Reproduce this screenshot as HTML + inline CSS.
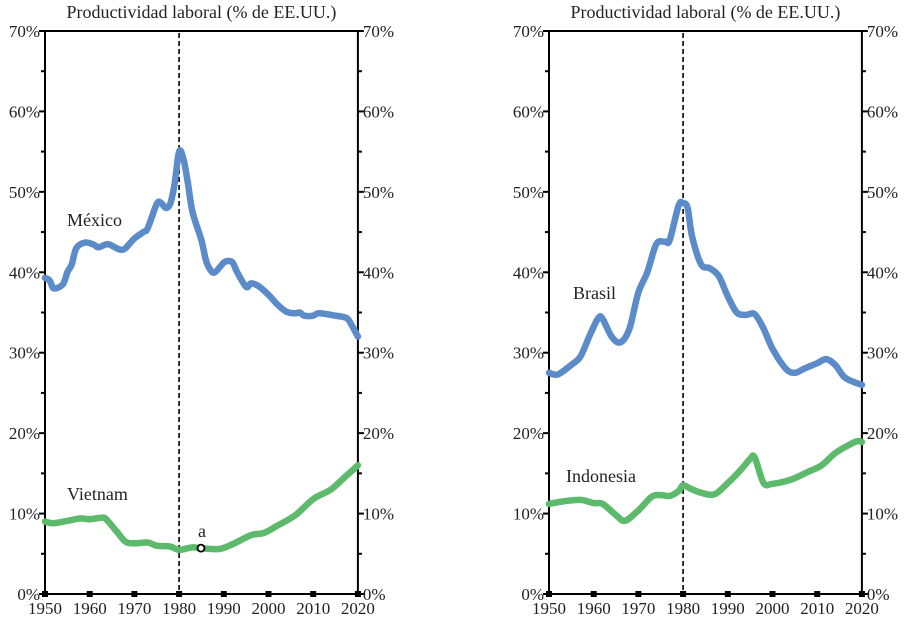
<!DOCTYPE html>
<html><head><meta charset="utf-8"><style>
html,body{margin:0;padding:0;background:#fff;}
svg text{font-family:"Liberation Serif",serif;fill:#222;}
</style></head><body>
<svg id="s" width="913" height="619" xmlns="http://www.w3.org/2000/svg"></svg>
<script>
const S=document.getElementById('s');let h='';
const Y=p=>594-p*8.043;
function smooth(P){let d=`M${P[0][0].toFixed(1)},${P[0][1].toFixed(1)}`;
 for(let i=0;i<P.length-1;i++){const p0=P[i-1]||P[i],p1=P[i],p2=P[i+1],p3=P[i+2]||p2;
  const c1=[p1[0]+(p2[0]-p0[0])/6,p1[1]+(p2[1]-p0[1])/6],c2=[p2[0]-(p3[0]-p1[0])/6,p2[1]-(p3[1]-p1[1])/6];
  d+=`C${c1[0].toFixed(1)},${c1[1].toFixed(1)} ${c2[0].toFixed(1)},${c2[1].toFixed(1)} ${p2[0].toFixed(1)},${p2[1].toFixed(1)}`;}
 return d;}
function panel(x0,title,series,labels){
 const X=yr=>x0+(yr-1950)*4.47;const x1=X(2020);
 h+=`<text x="${(x0+x1)/2}" y="18" font-size="18" text-anchor="middle">${title}</text>`;
 h+=`<path d="M${x0} 31V594H${x1}V31H${x0}" fill="none" stroke="#000" stroke-width="2"/>`;
 for(let p=0;p<=70;p+=5){const y=Y(p);const L=p%10?4:6;
  h+=`<line x1="${x0-L}" x2="${x0}" y1="${y}" y2="${y}" stroke="#000" stroke-width="2"/><line x1="${x1}" x2="${x1+L}" y1="${y}" y2="${y}" stroke="#000" stroke-width="2"/>`;
  if(p%10==0){h+=`<text x="${x0-5}" y="${y+6}" font-size="17" text-anchor="end">${p}%</text><text x="${x1+5}" y="${y+6}" font-size="17">${p}%</text>`;}}
 for(let yr=1950;yr<=2020;yr+=10){const x=X(yr);h+=`<rect x="${x-3}" y="591" width="6" height="6" fill="#000"/><text x="${x}" y="614" font-size="17" text-anchor="middle">${yr}</text>`;}
 h+=`<line x1="${X(1980)}" x2="${X(1980)}" y1="33" y2="592" stroke="#000" stroke-width="1.6" stroke-dasharray="5,3"/>`;
 for(const [d,c] of series){h+=`<path d="${smooth(d.map(q=>[X(q[0]),Y(q[1])]))}" fill="none" stroke="${c}" stroke-width="6.5" stroke-linejoin="round" stroke-linecap="round"/>`;}
 for(const [t,x,y] of labels)h+=`<text x="${x}" y="${y}" font-size="18">${t}</text>`;
 return X;
}
const B='#5b8bc9',G='#5dba6c';
const mex=[[1950,39.3],[1951,39],[1952,38],[1954,38.5],[1955,40],[1956,41],[1957,43],[1959,43.7],[1961,43.4],[1962,43.1],[1964,43.5],[1966,43],[1967,42.8],[1968,43],[1970,44.2],[1972,45],[1973,45.5],[1975,48.5],[1976,48.6],[1977,48],[1978,48.5],[1979,51],[1980,55],[1981,54],[1982,51],[1983,47.5],[1985,44],[1986,41.5],[1987,40.3],[1988,40],[1990,41.2],[1991,41.4],[1992,41.2],[1993,40],[1995,38.2],[1996,38.6],[1997,38.5],[1998,38.2],[2000,37.2],[2002,36],[2004,35.1],[2006,34.9],[2007,35],[2008,34.6],[2010,34.6],[2011,34.9],[2013,34.8],[2015,34.6],[2017,34.4],[2018,34],[2020,32]];
const vie=[[1950,9],[1952,8.8],[1955,9.1],[1958,9.4],[1960,9.3],[1963,9.5],[1964,9.1],[1966,7.8],[1968,6.5],[1970,6.3],[1973,6.4],[1975,6],[1978,5.9],[1980,5.5],[1983,5.8],[1985,5.7],[1989,5.6],[1992,6.2],[1996,7.3],[1999,7.6],[2002,8.5],[2006,9.8],[2010,11.8],[2014,13],[2017,14.5],[2020,16]];
const bra=[[1950,27.5],[1952,27.3],[1955,28.5],[1957,29.5],[1959,32],[1961,34.3],[1962,34.2],[1964,32],[1966,31.3],[1968,33],[1970,37.5],[1972,40],[1974,43.5],[1976,43.8],[1977,44],[1979,48.3],[1980,48.6],[1981,48],[1982,44.5],[1984,41],[1986,40.5],[1988,39.5],[1990,37],[1992,35],[1994,34.7],[1996,34.8],[1998,33],[2000,30.5],[2003,28],[2005,27.5],[2007,28],[2010,28.7],[2012,29.2],[2014,28.5],[2016,27],[2018,26.4],[2020,26]];
const ind=[[1950,11.2],[1953,11.5],[1957,11.7],[1960,11.3],[1962,11.2],[1965,9.8],[1967,9.1],[1970,10.4],[1973,12.1],[1975,12.3],[1977,12.2],[1979,12.8],[1980,13.5],[1982,13],[1984,12.6],[1987,12.4],[1990,13.8],[1993,15.5],[1995,16.8],[1996,17],[1998,13.8],[2000,13.7],[2004,14.2],[2008,15.2],[2011,16],[2014,17.5],[2017,18.5],[2019,19],[2020,18.9]];
const t='Productividad laboral (% de EE.UU.)';
const XL=panel(45,t,[[mex,B],[vie,G]],[['México',67,226],['Vietnam',67,500],['a',198,537]]);
h+=`<circle cx="${XL(1984.9)}" cy="${Y(5.7)}" r="3.5" fill="#fff" stroke="#000" stroke-width="1.8"/>`;
panel(549,t,[[bra,B],[ind,G]],[['Brasil',573,299],['Indonesia',566,482]]);
S.innerHTML=h;
</script>
</body></html>
